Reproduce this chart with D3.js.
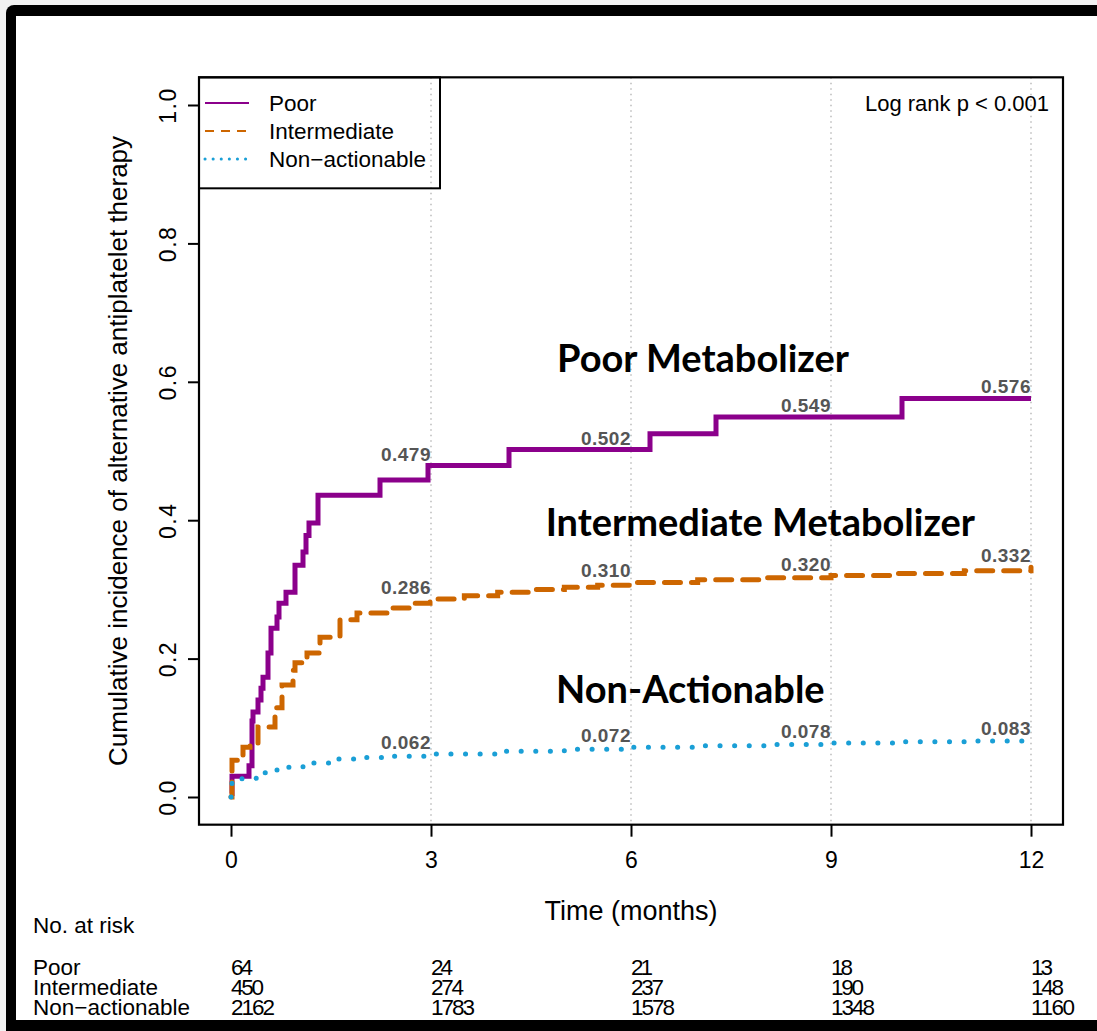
<!DOCTYPE html>
<html>
<head>
<meta charset="utf-8">
<script src="https://cdn.jsdelivr.net/npm/d3@7"></script>
<style>
  body { margin: 0; background: #f2f2f2; }
  text { font-family: "Liberation Sans", Arial, sans-serif; }
</style>
</head>
<body>
<script>
// cumulative incidence curves (time in months, incidence)
var poorTime = [0, 0.015, 0.27, 0.315, 0.33, 0.405, 0.45, 0.48, 0.555, 0.6, 0.69, 0.72, 0.825, 0.96, 1.08, 1.125, 1.17, 1.305, 2.235, 2.955, 4.17, 6.285, 7.275, 10.065, 12];
var poorInc  = [0.005, 0.03, 0.045, 0.11, 0.123, 0.14, 0.157, 0.173, 0.208, 0.244, 0.26, 0.28, 0.296, 0.335, 0.354, 0.378, 0.396, 0.436, 0.458, 0.479, 0.502, 0.525, 0.549, 0.576, 0.576];

var interTime = [0, 0.015, 0.18, 0.285, 0.405, 0.66, 0.765, 0.93, 0.96, 1.14, 1.335, 1.635, 1.89, 2.34, 2.73, 2.985, 3.5, 4, 4.5, 5, 5.5, 6, 7, 8, 9, 10, 11, 12];
var interInc  = [0.0, 0.053, 0.072, 0.078, 0.101, 0.129, 0.162, 0.183, 0.194, 0.208, 0.231, 0.256, 0.266, 0.273, 0.28, 0.286, 0.291, 0.296, 0.3, 0.303, 0.306, 0.31, 0.314, 0.317, 0.32, 0.323, 0.327, 0.332];

var nonTime = [0, 0.015, 0.165, 0.435, 0.69, 1.08, 1.485, 1.935, 2.385, 3, 4, 5, 6, 7, 8, 9, 10, 11, 12];
var nonInc  = [0.0, 0.024, 0.027, 0.035, 0.043, 0.049, 0.055, 0.057, 0.059, 0.062, 0.066, 0.069, 0.072, 0.074, 0.076, 0.078, 0.08, 0.081, 0.083];

// printed estimates at 3, 6, 9, 12 months
var labelTimes = [3, 6, 9, 12];
var poorLabels = [0.479, 0.502, 0.549, 0.576];
var interLabels = [0.286, 0.310, 0.320, 0.332];
var nonLabels = [0.062, 0.072, 0.078, 0.083];

// number at risk table
var riskTimes = [0, 3, 6, 9, 12];
var riskGroups = ["Poor", "Intermediate", "Non\u2212actionable"];
var riskPoor = [64, 24, 21, 18, 13];
var riskInter = [450, 274, 237, 190, 148];
var riskNon = [2162, 1783, 1578, 1348, 1160];

var xTicks = [0, 3, 6, 9, 12];
var yTicks = [0, 0.2, 0.4, 0.6, 0.8, 1.0];

var width = 1097, height = 1031;

var svg = d3.select("body").append("svg")
    .attr("width", width)
    .attr("height", height);

// slide frame
svg.append("rect").attr("x", 6).attr("y", 5).attr("width", 1100).attr("height", 1040)
    .attr("rx", 8).attr("fill", "#000");
svg.append("rect").attr("x", 16).attr("y", 16).attr("width", 1090).attr("height", 1004)
    .attr("fill", "#fff");

// scales (R style 4% padding)
var x = d3.scaleLinear().domain([0, 12]).range([231, 1031]);
var y = d3.scaleLinear().domain([0, 1]).range([797, 105]);
var x0 = x(-0.48), x1 = x(12.48), yTop = y(1.04), yBot = y(-0.04);

// vertical dotted grid
svg.selectAll(".grid").data(xTicks.slice(1)).enter().append("line")
    .attr("x1", d => x(d)).attr("x2", d => x(d))
    .attr("y1", yTop).attr("y2", yBot)
    .attr("stroke", "#aaa").attr("stroke-width", 1.2)
    .attr("stroke-dasharray", "1.5,4");

// axes
var xAxis = svg.append("g").attr("transform", "translate(0," + yBot + ")")
    .call(d3.axisBottom(x).tickValues(xTicks).tickFormat(d3.format("d")).tickSize(12).tickPadding(15));
xAxis.select(".domain").remove();
xAxis.selectAll("line").attr("stroke", "#000").attr("stroke-width", 2);
xAxis.selectAll("text").attr("font-size", 23).attr("fill", "#000")
    .style("font-family", "Liberation Sans, Arial, sans-serif");

var yAxis = svg.append("g").attr("transform", "translate(" + x0 + ",0)")
    .call(d3.axisLeft(y).tickValues(yTicks).tickFormat(d3.format(".1f")).tickSize(11));
yAxis.select(".domain").remove();
yAxis.selectAll("line").attr("stroke", "#000").attr("stroke-width", 2);
yAxis.selectAll("text")
    .attr("x", 0).attr("dy", 0)
    .attr("transform", "translate(-31,0) rotate(-90)")
    .attr("text-anchor", "middle")
    .attr("dominant-baseline", "central")
    .attr("font-size", 23).attr("letter-spacing", 1.5).attr("fill", "#000")
    .style("font-family", "Liberation Sans, Arial, sans-serif");

// plot box
svg.append("rect").attr("x", x0).attr("y", yTop)
    .attr("width", x1 - x0).attr("height", yBot - yTop)
    .attr("fill", "none").attr("stroke", "#000").attr("stroke-width", 2.2);

// axis titles
svg.append("text").attr("transform", "translate(118," + ((yTop + yBot) / 2) + ") rotate(-90)")
    .attr("text-anchor", "middle").attr("dominant-baseline", "central")
    .attr("font-size", 26).text("Cumulative incidence of alternative antiplatelet therapy");
svg.append("text").attr("x", x(6)).attr("y", 920)
    .attr("text-anchor", "middle").attr("font-size", 27).text("Time (months)");

// curves
var line = d3.line().x(d => x(d[0])).y(d => y(d[1])).curve(d3.curveStepAfter);
var series = [
  {t: poorTime, v: poorInc, color: "#8b008b", dash: null, cap: "butt"},
  {t: interTime, v: interInc, color: "#cd6600", dash: "16,11", cap: "round"},
  {t: nonTime, v: nonInc, color: "#1a9fd6", dash: "0.1,14.5", cap: "round"}
];
series.forEach(function(s) {
  svg.append("path")
      .datum(d3.zip(s.t, s.v))
      .attr("d", line)
      .attr("fill", "none")
      .attr("stroke", s.color)
      .attr("stroke-width", 5)
      .attr("stroke-linecap", s.cap)
      .attr("stroke-dasharray", s.dash);
});

// printed values
[poorLabels, interLabels, nonLabels].forEach(function(vals) {
  svg.selectAll(null).data(d3.zip(labelTimes, vals)).enter().append("text")
      .attr("x", d => x(d[0]))
      .attr("y", d => y(d[1]) - 5)
      .attr("text-anchor", "end")
      .attr("font-size", 19).attr("font-weight", "bold").attr("fill", "#555")
      .attr("letter-spacing", 0.5)
      .text(d => d[1].toFixed(3));
});

// group annotations
var notes = [
  {t: 7.08, v: 0.614, s: "Poor Metabolizer"},
  {t: 7.94, v: 0.377, s: "Intermediate Metabolizer"},
  {t: 6.89, v: 0.136, s: "Non-Actionable"}
];
svg.selectAll(".note").data(notes).enter().append("text")
    .attr("x", d => x(d.t)).attr("y", d => y(d.v))
    .attr("text-anchor", "middle")
    .style("font-family", "Lato, 'Open Sans', sans-serif")
    .attr("font-size", 38).attr("font-weight", "bold").attr("fill", "#000")
    .text(d => d.s);

// legend
var leg = svg.append("g");
leg.append("rect").attr("x", x0).attr("y", yTop).attr("width", 241).attr("height", 111)
    .attr("fill", "none").attr("stroke", "#000").attr("stroke-width", 2);
var legItems = [
  {s: "Poor", color: "#8b008b", dash: null, w: 2},
  {s: "Intermediate", color: "#cd6600", dash: "9,7", w: 2},
  {s: "Non\u2212actionable", color: "#1a9fd6", dash: "0.1,8", w: 3}
];
legItems.forEach(function(d, i) {
  var ly = 103 + i * 28;
  leg.append("line").attr("x1", 205).attr("x2", 249).attr("y1", ly).attr("y2", ly)
      .attr("stroke", d.color).attr("stroke-width", d.w)
      .attr("stroke-linecap", d.dash && d.w == 3 ? "round" : "butt")
      .attr("stroke-dasharray", d.dash);
  leg.append("text").attr("x", 269).attr("y", ly).attr("dominant-baseline", "central")
      .attr("font-size", 22.5).text(d.s);
});

svg.append("text").attr("x", 1049).attr("y", 103).attr("text-anchor", "end")
    .attr("dominant-baseline", "central").attr("font-size", 22).text("Log rank p < 0.001");

// risk table
svg.append("text").attr("x", 33).attr("y", 933).attr("font-size", 22.5).text("No. at risk");
[riskPoor, riskInter, riskNon].forEach(function(row, i) {
  var ry = 975 + i * 20;
  svg.append("text").attr("x", 33).attr("y", ry).attr("font-size", 22.5).text(riskGroups[i]);
  svg.selectAll(null).data(d3.zip(riskTimes, row)).enter().append("text")
      .attr("x", d => x(d[0])).attr("y", ry)
      .attr("font-size", 22.5).attr("textLength", d => String(d[1]).length * 11)
      .text(d => d[1]);
});
</script>
</body>
</html>
